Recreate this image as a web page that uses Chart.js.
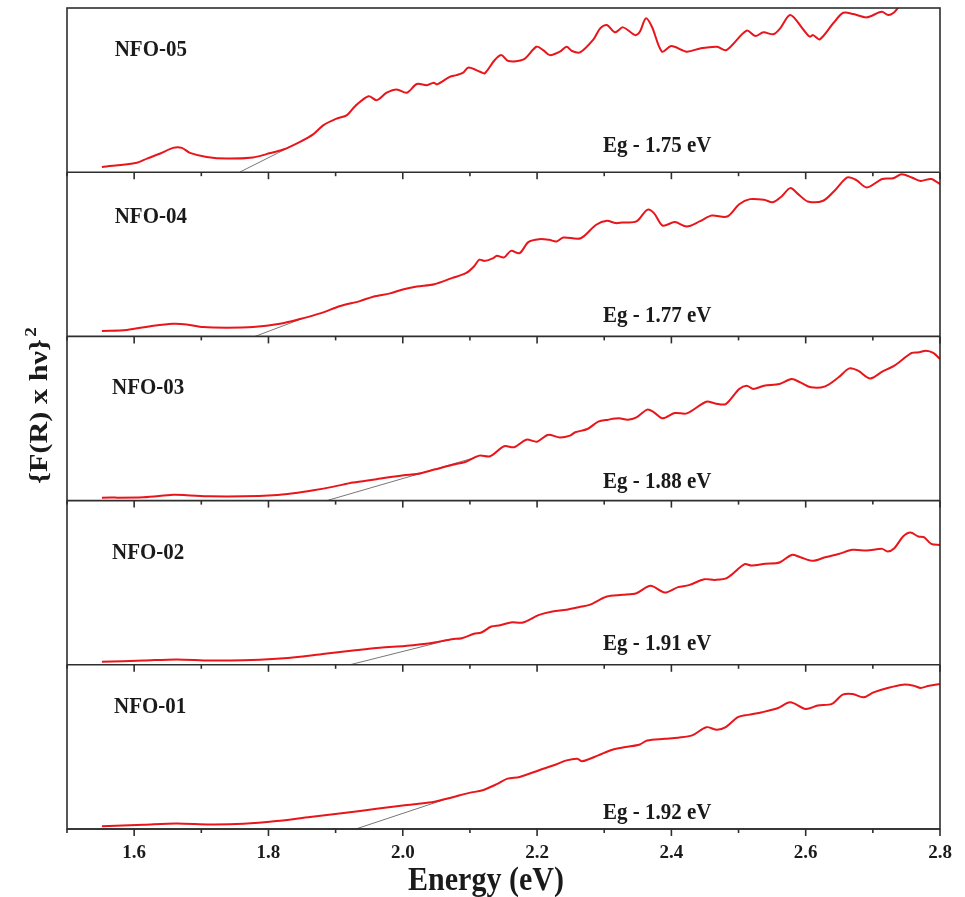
<!DOCTYPE html>
<html>
<head>
<meta charset="utf-8">
<script src="https://cdn.jsdelivr.net/npm/chart.js@4.4.1/dist/chart.umd.min.js"></script>
<style>
  html, body { margin: 0; padding: 0; background: #fff; }
</style>
</head>
<body>
<canvas id="chart" width="965" height="897"></canvas>
<script>
// x ticks that carry a label
const tickLabels = [1.6, 1.8, 2.0, 2.2, 2.4, 2.6, 2.8];

// panel names and band gaps, bottom panel first
const panelNames = ['NFO-01', 'NFO-02', 'NFO-03', 'NFO-04', 'NFO-05'];
const bandGaps = ['Eg - 1.92 eV', 'Eg - 1.91 eV', 'Eg - 1.88 eV', 'Eg - 1.77 eV', 'Eg - 1.75 eV'];

// {F(R) x hv}^2 curves, values in % of the panel height
const energy01 = [1.552, 1.614, 1.663, 1.713, 1.763, 1.812, 1.862, 1.912, 1.961, 2.003,
    2.021, 2.047, 2.073, 2.099, 2.119, 2.140, 2.156, 2.174, 2.203, 2.229,
    2.244, 2.260, 2.267, 2.291, 2.312, 2.332, 2.353, 2.364, 2.390, 2.410,
    2.431, 2.452, 2.468, 2.481, 2.499, 2.514, 2.535, 2.558, 2.577, 2.600,
    2.618, 2.639, 2.655, 2.670, 2.686, 2.701, 2.722, 2.745, 2.761, 2.771,
    2.784, 2.800];
const nfo01 = [1.6, 2.6, 3.4, 2.8, 3.2, 4.8, 7.3, 9.7, 12.3, 14.4,
    15.2, 16.6, 19.2, 22.0, 23.6, 27.3, 30.7, 31.7, 35.8, 39.4,
    41.8, 42.8, 41.2, 44.8, 48.3, 49.9, 51.5, 53.9, 54.9, 55.6,
    57.0, 62.0, 60.4, 62.0, 68.1, 69.5, 71.1, 73.5, 77.2, 73.1,
    75.2, 76.2, 81.8, 82.2, 80.2, 83.2, 85.9, 87.9, 87.3, 85.9,
    87.3, 88.3];

const energy02 = [1.552, 1.614, 1.663, 1.713, 1.763, 1.812, 1.847, 1.887, 1.926, 1.966,
    2.003, 2.021, 2.047, 2.073, 2.088, 2.106, 2.117, 2.132, 2.145, 2.161,
    2.179, 2.203, 2.223, 2.244, 2.262, 2.278, 2.304, 2.327, 2.348, 2.369,
    2.390, 2.410, 2.426, 2.449, 2.465, 2.483, 2.509, 2.519, 2.540, 2.561,
    2.579, 2.592, 2.610, 2.629, 2.649, 2.670, 2.691, 2.714, 2.722, 2.732,
    2.745, 2.756, 2.768, 2.776, 2.787, 2.800];
const nfo02 = [1.8, 2.6, 3.3, 2.6, 2.8, 3.7, 4.9, 6.9, 8.7, 10.4,
    11.4, 12.2, 13.6, 15.6, 16.2, 18.9, 19.7, 23.3, 24.1, 25.8,
    25.8, 30.4, 32.5, 33.5, 35.1, 36.5, 41.6, 42.6, 43.6, 48.1,
    44.0, 47.3, 48.5, 52.1, 51.7, 52.9, 61.3, 60.4, 61.5, 62.3,
    66.9, 65.5, 63.3, 65.5, 67.5, 70.0, 69.6, 70.6, 69.0, 71.0,
    78.1, 80.5, 78.1, 77.7, 73.6, 73.0];

const energy03 = [1.552, 1.614, 1.658, 1.678, 1.713, 1.763, 1.807, 1.837, 1.867, 1.897,
    1.926, 1.961, 2.001, 2.021, 2.047, 2.073, 2.094, 2.114, 2.130, 2.151,
    2.166, 2.184, 2.200, 2.216, 2.234, 2.249, 2.257, 2.275, 2.291, 2.306,
    2.322, 2.335, 2.348, 2.364, 2.374, 2.387, 2.405, 2.423, 2.452, 2.465,
    2.481, 2.501, 2.512, 2.522, 2.538, 2.561, 2.579, 2.592, 2.608, 2.629,
    2.649, 2.665, 2.678, 2.696, 2.714, 2.732, 2.758, 2.769, 2.779, 2.790,
    2.800];
const nfo03 = [1.8, 2.0, 3.5, 3.3, 2.6, 2.6, 3.3, 4.5, 6.3, 8.5,
    11.0, 13.0, 15.5, 16.2, 18.9, 21.7, 23.7, 27.4, 27.0, 33.1,
    32.5, 37.1, 35.9, 40.0, 38.5, 39.6, 41.6, 43.6, 48.1, 49.3,
    50.1, 49.3, 50.7, 55.4, 53.8, 50.1, 53.3, 53.1, 60.2, 59.2,
    58.8, 68.0, 70.0, 68.0, 70.0, 71.0, 74.0, 72.0, 69.0, 69.6,
    75.1, 80.5, 79.1, 74.4, 78.5, 82.2, 89.9, 90.3, 91.3, 89.9,
    86.2];

const energy04 = [1.552, 1.589, 1.629, 1.658, 1.678, 1.703, 1.738, 1.777, 1.817, 1.847,
    1.877, 1.907, 1.936, 1.956, 1.981, 2.003, 2.021, 2.047, 2.073, 2.094,
    2.106, 2.114, 2.122, 2.135, 2.140, 2.151, 2.161, 2.174, 2.187, 2.203,
    2.218, 2.229, 2.239, 2.265, 2.288, 2.304, 2.317, 2.327, 2.348, 2.364,
    2.374, 2.387, 2.405, 2.423, 2.442, 2.460, 2.483, 2.501, 2.517, 2.538,
    2.551, 2.564, 2.577, 2.590, 2.603, 2.626, 2.644, 2.662, 2.675, 2.691,
    2.714, 2.730, 2.743, 2.758, 2.771, 2.787, 2.800];
const nfo04 = [3.3, 3.9, 6.5, 7.7, 7.3, 5.7, 5.3, 5.7, 7.7, 10.6,
    14.0, 18.5, 21.5, 24.2, 26.2, 28.9, 30.4, 31.8, 35.5, 38.5,
    42.6, 46.7, 46.0, 47.7, 49.1, 48.1, 52.1, 50.7, 57.4, 59.2,
    58.8, 57.8, 60.2, 59.8, 68.0, 70.4, 69.0, 69.4, 70.0, 77.1,
    75.1, 67.5, 69.6, 66.9, 70.0, 73.6, 73.0, 80.5, 83.6, 83.2,
    81.7, 85.2, 90.3, 86.2, 82.2, 82.6, 89.2, 96.8, 95.3, 90.7,
    95.9, 96.3, 98.8, 96.8, 94.7, 95.9, 92.7];

const energy05 = [1.552, 1.604, 1.619, 1.639, 1.658, 1.671, 1.683, 1.708, 1.738, 1.777,
    1.797, 1.822, 1.847, 1.867, 1.882, 1.902, 1.917, 1.929, 1.949, 1.961,
    1.976, 1.991, 2.006, 2.021, 2.036, 2.046, 2.051, 2.070, 2.080, 2.090,
    2.098, 2.115, 2.122, 2.137, 2.147, 2.157, 2.180, 2.199, 2.209, 2.219,
    2.234, 2.244, 2.252, 2.264, 2.284, 2.294, 2.304, 2.316, 2.328, 2.346,
    2.353, 2.362, 2.371, 2.386, 2.400, 2.423, 2.443, 2.468, 2.482, 2.512,
    2.525, 2.537, 2.552, 2.562, 2.577, 2.597, 2.606, 2.611, 2.621, 2.641,
    2.656, 2.671, 2.691, 2.713, 2.723, 2.731, 2.738, 2.745];
const nfo05 = [3.2, 5.7, 8.3, 11.4, 14.8, 14.8, 11.8, 9.3, 8.3, 9.0,
    11.0, 13.8, 18.5, 23.2, 28.7, 32.7, 34.8, 40.2, 46.3, 43.9,
    48.4, 50.4, 48.4, 53.7, 53.0, 54.5, 53.5, 58.1, 59.1, 60.6,
    63.8, 61.2, 60.2, 68.3, 71.3, 67.7, 68.7, 76.4, 74.4, 71.3,
    73.4, 76.4, 73.8, 73.0, 80.9, 87.6, 89.6, 85.2, 88.2, 83.5,
    85.5, 93.7, 88.6, 73.4, 76.8, 73.4, 75.4, 76.4, 74.4, 86.2,
    82.9, 85.2, 84.0, 87.6, 95.7, 86.6, 82.5, 83.5, 80.9, 90.7,
    97.1, 96.3, 94.3, 97.7, 95.7, 97.1, 100.4, 104];

// tangent lines used for the Tauc extrapolation: [start, end]
const tangentEnergy = [[1.930, 2.070], [1.921, 2.070], [1.887, 2.110], [1.780, 1.850], [1.757, 1.835]];
const tangentValue = [[0, 19.0], [0, 15.3], [0, 26.5], [0, 10.8], [0, 16.0]];

const curveEnergy = [energy01, energy02, energy03, energy04, energy05];
const curveValue = [nfo01, nfo02, nfo03, nfo04, nfo05];
const panelIds = ['y01', 'y02', 'y03', 'y04', 'y05'];

// label placement inside each panel (x in eV, y in % of panel)
const nameX = [1.570, 1.567, 1.567, 1.571, 1.571];
const nameY = [70.7, 64.6, 64.8, 68.9, 70.9];
const gapX = 2.298;
const gapY = [5.9, 9.3, 7.9, 9.0, 12.2];

const SERIF = '"Liberation Serif", "Times New Roman", serif';
const INK = '#1a1a1a';

function toPoints(xs, ys) {
    return xs.map((x, i) => ({ x: x, y: ys[i] }));
}

const datasets = [];
panelIds.forEach((id, i) => {
    datasets.push({
        label: panelNames[i],
        data: toPoints(curveEnergy[i], curveValue[i]),
        yAxisID: id,
        borderColor: '#e8151b',
        borderWidth: 2,
        pointRadius: 0,
        tension: 0.3
    });
    datasets.push({
        label: panelNames[i] + ' fit',
        data: toPoints(tangentEnergy[i], tangentValue[i]),
        yAxisID: id,
        borderColor: '#777',
        borderWidth: 1,
        pointRadius: 0
    });
});

const scales = {
    x: {
        type: 'linear',
        min: 1.5,
        max: 2.8,
        grid: { display: false },
        border: { display: false },
        ticks: {
            stepSize: 0.1,
            autoSkip: false,
            maxRotation: 0,
            padding: 5,
            color: INK,
            font: { family: SERIF, size: 19, weight: 'bold' },
            callback: function (v) {
                const r = Math.round(v * 10) / 10;
                return tickLabels.includes(r) ? r.toFixed(1) : '';
            }
        },
        afterFit: function (s) { s.height = 68; }
    }
};
panelIds.forEach(id => {
    scales[id] = {
        type: 'linear',
        position: 'left',
        stack: 'panels',
        stackWeight: 1,
        min: 0,
        max: 100,
        grid: { display: false },
        border: { display: false },
        ticks: { display: false },
        afterFit: function (s) { s.width = 67; }
    };
});

// frame, panel separators, inner ticks and the text labels
const panelFrame = {
    id: 'panelFrame',
    afterDatasetsDraw(chart) {
        const ctx = chart.ctx;
        const area = chart.chartArea;
        const xs = chart.scales.x;
        ctx.save();
        ctx.strokeStyle = '#2e2e2e';
        ctx.lineWidth = 1.6;
        ctx.strokeRect(area.left, area.top, area.right - area.left, area.bottom - area.top);

        panelIds.forEach((id, i) => {
            const s = chart.scales[id];
            ctx.beginPath();
            ctx.moveTo(area.left, s.bottom);
            ctx.lineTo(area.right, s.bottom);
            ctx.stroke();
            xs.ticks.forEach((t, k) => {
                const px = xs.getPixelForTick(k);
                const r = Math.round(t.value * 10);
                const len = r % 2 === 0 ? 7 : 4;
                ctx.beginPath();
                ctx.moveTo(px, s.bottom);
                ctx.lineTo(px, s.bottom + len);
                ctx.stroke();
            });

            ctx.fillStyle = INK;
            ctx.font = 'bold 21px ' + SERIF;
            ctx.textBaseline = 'alphabetic';
            ctx.textAlign = 'left';
            [[panelNames[i], nameX[i], nameY[i]], [bandGaps[i], gapX, gapY[i]]].forEach(lbl => {
                ctx.save();
                ctx.translate(xs.getPixelForValue(lbl[1]), s.getPixelForValue(lbl[2]));
                ctx.scale(1, 1.1);
                ctx.fillText(lbl[0], 0, 0);
                ctx.restore();
            });
        });

        // x title
        ctx.save();
        ctx.fillStyle = INK;
        ctx.font = 'bold 30px ' + SERIF;
        ctx.textAlign = 'center';
        ctx.translate(486, 890);
        ctx.scale(1, 1.1);
        ctx.fillText('Energy (eV)', 0, 0);
        ctx.restore();

        // y title {F(R) x hν}²
        const main = '{F(R) x hν}';
        ctx.save();
        ctx.translate(47, (area.top + area.bottom) / 2 - 13);
        ctx.rotate(-Math.PI / 2);
        ctx.font = 'bold 25px ' + SERIF;
        const w1 = ctx.measureText(main).width;
        ctx.font = 'bold 16px ' + SERIF;
        const w2 = ctx.measureText('2').width;
        const total = w1 + w2 + 2;
        ctx.scale(157 / total, 1);
        ctx.fillStyle = INK;
        ctx.textAlign = 'left';
        ctx.font = 'bold 25px ' + SERIF;
        ctx.fillText(main, -total / 2, 0);
        ctx.font = 'bold 16px ' + SERIF;
        ctx.fillText('2', -total / 2 + w1 + 2, -11);
        ctx.restore();

        ctx.restore();
    }
};

new Chart(document.getElementById('chart').getContext('2d'), {
    type: 'line',
    data: { datasets: datasets },
    options: {
        responsive: false,
        animation: false,
        layout: { padding: { top: 8, right: 25, left: 0, bottom: 0 } },
        plugins: {
            legend: { display: false },
            tooltip: { enabled: false }
        },
        scales: scales
    },
    plugins: [panelFrame]
});
</script>
</body>
</html>
